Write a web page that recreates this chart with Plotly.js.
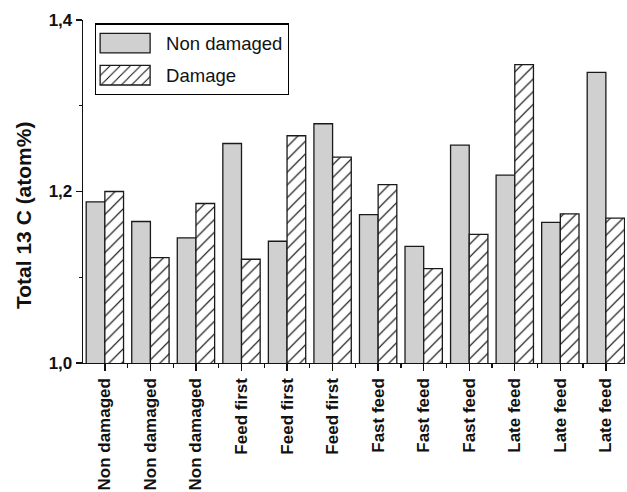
<!DOCTYPE html>
<html><head><meta charset="utf-8">
<script src="https://cdn.plot.ly/plotly-3.0.1.min.js"></script>
<style>body{margin:0;background:#fff}</style>
</head><body><div id="chart" style="width:627px;height:492px"></div>
<script>
const categories = ['Non damaged','Non damaged','Non damaged','Feed first','Feed first','Feed first','Fast feed','Fast feed','Fast feed','Late feed','Late feed','Late feed'];
const nonDamaged = [1.188,1.165,1.146,1.256,1.142,1.279,1.173,1.136,1.254,1.219,1.164,1.339];
const damage = [1.200,1.123,1.186,1.121,1.265,1.240,1.208,1.110,1.150,1.348,1.174,1.169];
const yTickVals = [1.0,1.2,1.4];
const yTickLabels = ['1,0','1,2','1,4'];
const seriesNames = ['Non damaged','Damage'];

const pos = categories.map((c,i)=>i);
const FONT = '"Liberation Sans", Arial, Helvetica, sans-serif';

const traces = [
  {type:'bar', name:seriesNames[0], x:pos, y:nonDamaged, legendgroup:'a',
   marker:{color:'#d0d0d0', line:{color:'#1a1a1a', width:1.3}}},
  {type:'bar', name:seriesNames[1], x:pos, y:damage, legendgroup:'b',
   marker:{color:'#ffffff', line:{color:'#1a1a1a', width:1.3},
     pattern:{shape:'/', fgcolor:'#000', bgcolor:'#fff', size:9, solidity:0.13}}}
];

const layout = {
  width:627, height:492,
  margin:{l:83, r:2, t:20, b:129},
  paper_bgcolor:'#fff', plot_bgcolor:'#fff',
  barmode:'group', bargap:0.18, bargroupgap:0,
  showlegend:true,
  legend:{x:0.022, y:0.99, xanchor:'left', yanchor:'top',
    bordercolor:'#000', borderwidth:1.2, bgcolor:'#fff',
    font:{family:FONT, size:18.5, color:'#111'}, itemwidth:60, tracegroupgap:5},
  font:{family:FONT, color:'#111'},
  xaxis:{range:[-0.48, 11.42], tickmode:'array', tickvals:pos, ticktext:categories,
    tickangle:-90, ticks:'outside', ticklen:7, tickwidth:1.3, tickcolor:'#111',
    showline:true, linecolor:'#111', linewidth:1.3, showgrid:false, zeroline:false,
    tickfont:{family:FONT, size:17, weight:'bold', color:'#111'},
    minor:{tickmode:'array', tickvals:pos.map(p=>p+0.5), ticks:'outside', ticklen:4, tickwidth:1.3, tickcolor:'#111', showgrid:false}},
  yaxis:{range:[1.0,1.4], tickmode:'array', tickvals:yTickVals, ticktext:yTickLabels,
    ticks:'outside', ticklen:6, tickwidth:1.3, tickcolor:'#111',
    showline:true, linecolor:'#111', linewidth:1.3, showgrid:false, zeroline:false,
    tickfont:{family:FONT, size:17, weight:'bold', color:'#111'},
    minor:{tickmode:'array', tickvals:[1.1,1.3], ticks:'outside', ticklen:3, tickwidth:1.3, tickcolor:'#111', showgrid:false}},
  annotations:[{text:'Total 13 C (atom%)', textangle:-90, xref:'paper', yref:'paper',
    x:-0.111, y:0.431, xanchor:'center', yanchor:'middle', showarrow:false,
    font:{family:FONT, size:21, weight:'bold', color:'#111'}}]
};

Plotly.newPlot('chart', traces, layout, {staticPlot:true}).then(()=>{
  document.querySelectorAll('.legend .legendpoints path').forEach(p=>{
    p.setAttribute('d','M19,9.8H-31V-9.8H19Z');
  });
});
</script></body></html>
